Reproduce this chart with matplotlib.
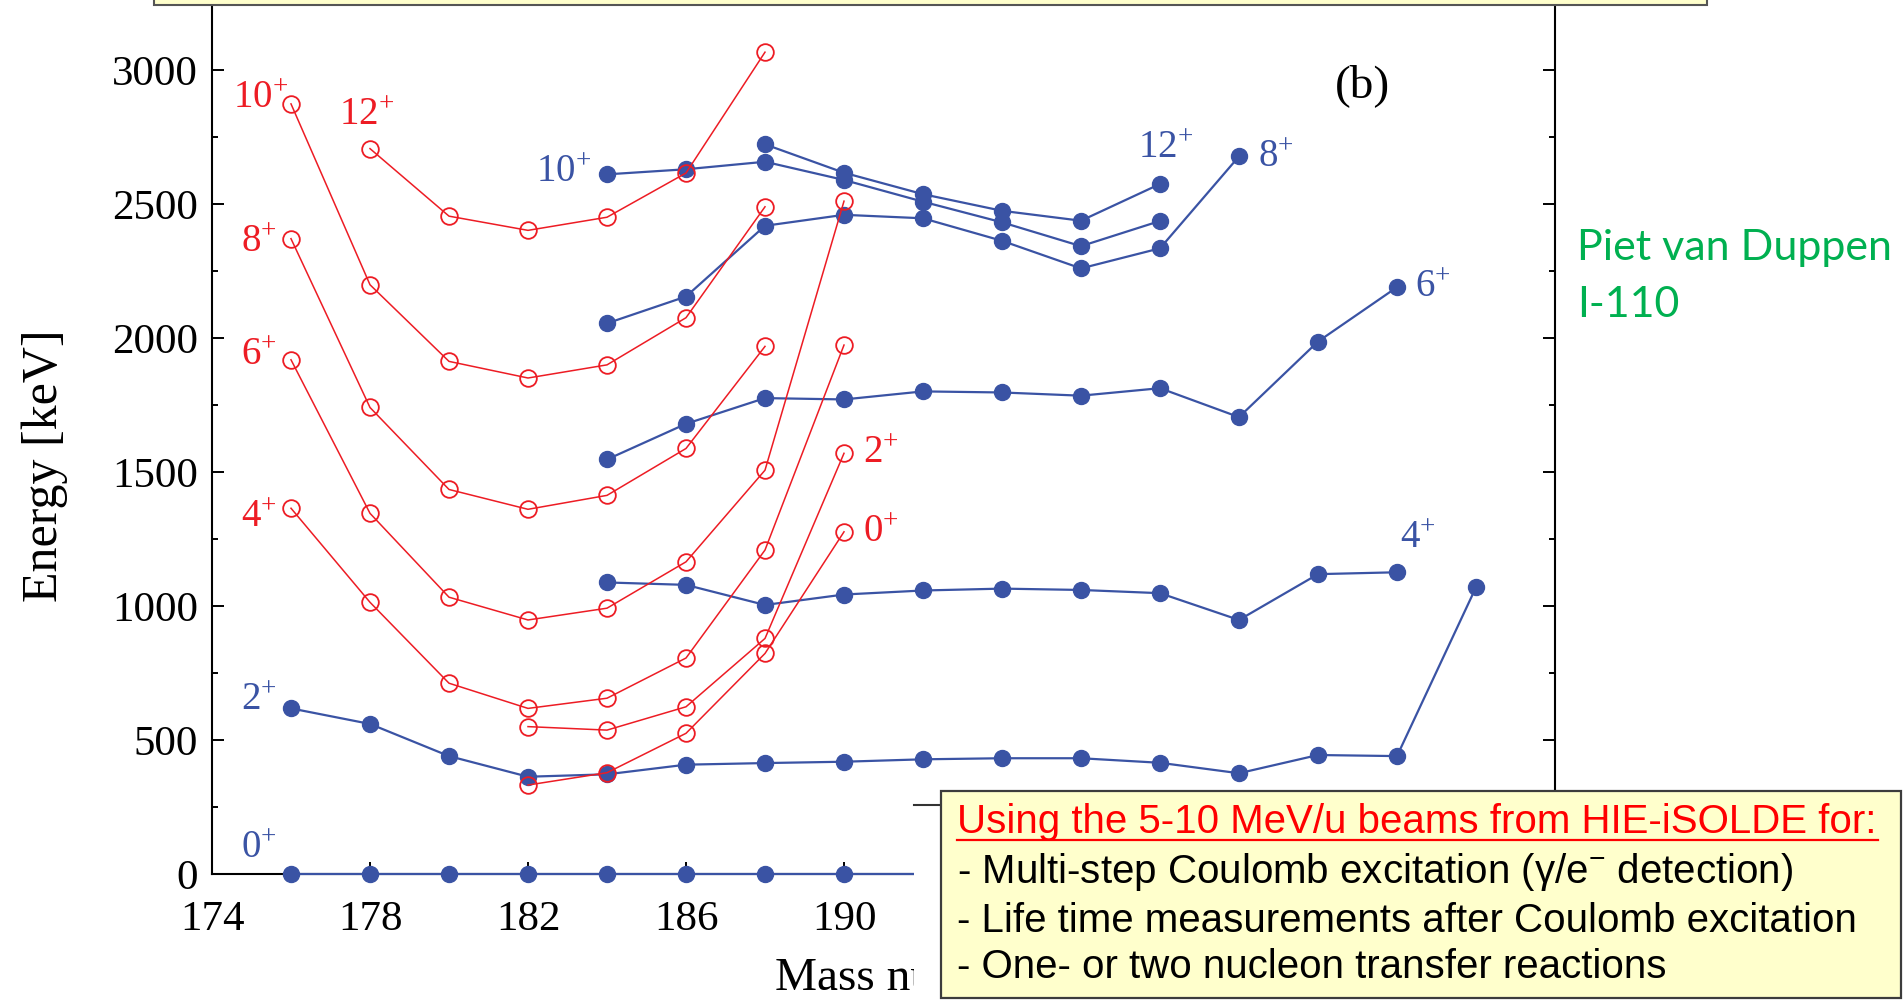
import matplotlib
matplotlib.use('Agg')
import matplotlib.pyplot as plt
from matplotlib.patches import Rectangle
from matplotlib.lines import Line2D

# excitation energies (keV) vs mass number
# red = open circles, blue = filled dots
r12_mass = [178, 180, 182, 184, 186, 188]
r12_e = [2707, 2455, 2402, 2451, 2616, 3067]
r10_mass = [176, 178, 180, 182, 184, 186, 188]
r10_e = [2874, 2199, 1913, 1851, 1900, 2076, 2490]
r8_mass = [176, 178, 180, 182, 184, 186, 188]
r8_e = [2371, 1741, 1435, 1361, 1413, 1588, 1969]
r6_mass = [176, 178, 180, 182, 184, 186, 188, 190]
r6_e = [1919, 1346, 1033, 948, 992, 1165, 1507, 2511]
r4_mass = [176, 178, 180, 182, 184, 186, 188, 190]
r4_e = [1365, 1014, 712, 618, 656, 806, 1209, 1974]
r2_mass = [182, 184, 186, 188, 190]
r2_e = [550, 537, 624, 879, 1570]
r0_mass = [182, 184, 186, 188, 190]
r0_e = [332, 378, 525, 823, 1277]

b0_mass = [176, 178, 180, 182, 184, 186, 188, 190, 192]
b0_e = [0, 0, 0, 0, 0, 0, 0, 0, 0]
b2_mass = [176, 178, 180, 182, 184, 186, 188, 190, 192, 194, 196, 198, 200, 202, 204, 206]
b2_e = [618, 560, 440, 363, 372, 408, 414, 419, 428, 432, 432, 415, 376, 444, 440, 1070]
b4_mass = [184, 186, 188, 190, 192, 194, 196, 198, 200, 202, 204]
b4_e = [1088, 1079, 1004, 1043, 1058, 1065, 1060, 1048, 948, 1119, 1126]
b6_mass = [184, 186, 188, 190, 192, 194, 196, 198, 200, 202, 204]
b6_e = [1547, 1680, 1776, 1771, 1801, 1797, 1785, 1813, 1705, 1987, 2190]
b8_mass = [184, 186, 188, 190, 192, 194, 196, 198, 200]
b8_e = [2055, 2155, 2419, 2460, 2447, 2363, 2260, 2335, 2678]
b10_mass = [184, 186, 188, 190, 192, 194, 196, 198]
b10_e = [2611, 2630, 2658, 2590, 2509, 2432, 2343, 2437]
b12_mass = [188, 190, 192, 194, 196, 198]
b12_e = [2723, 2617, 2537, 2475, 2438, 2575]

red_series = [(r12_mass, r12_e), (r10_mass, r10_e), (r8_mass, r8_e), (r6_mass, r6_e),
              (r4_mass, r4_e), (r2_mass, r2_e), (r0_mass, r0_e)]
blue_series = [(b0_mass, b0_e), (b2_mass, b2_e), (b4_mass, b4_e), (b6_mass, b6_e),
               (b8_mass, b8_e), (b10_mass, b10_e), (b12_mass, b12_e)]

red_labels = ['10', '12', '8', '6', '4', '2', '0']
red_label_pos = [(174.53, 2858), (177.22, 2795), (174.73, 2321), (174.73, 1899),
                 (174.73, 1295), (190.48, 1534), (190.48, 1239)]
blue_labels = ['10', '12', '8', '6', '4', '2', '0']
blue_label_pos = [(182.2, 2582), (197.44, 2672), (200.48, 2638), (204.46, 2153),
                  (204.08, 1216), (174.73, 612), (174.73, 60)]

x_ticks = [174, 178, 182, 186, 190, 194, 198, 202, 206]
# labels past 190 sit under the text box on the slide
x_tick_labels = ['174', '178', '182', '186', '190', '', '', '', '']

box_title = 'Using the 5-10 MeV/u beams from HIE-iSOLDE for:'
box_lines = ['- Multi-step Coulomb excitation (γ/e$\\mathregular{^{-}}$ detection)',
             '- Life time measurements after Coulomb excitation',
             '- One- or two nucleon transfer reactions']

RED = '#ED1C24'
BLUE = '#3A53A4'
W, H = 1903, 1005

plt.rcParams['font.family'] = 'Liberation Serif'
plt.rcParams['mathtext.fontset'] = 'custom'
plt.rcParams['mathtext.rm'] = 'Liberation Serif'

fig = plt.figure(figsize=(W / 100, H / 100), dpi=100)
ax = fig.add_axes([212 / W, 1 - 874 / H, (1555 - 212) / W, (874 - 5) / H])

for m, e in blue_series:
    ax.plot(m, e, '-o', color=BLUE, lw=1.6, ms=11.5, mfc=BLUE, mec=BLUE, zorder=3, clip_on=False)
for m, e in red_series:
    ax.plot(m, e, '-o', color=RED, lw=1.1, ms=12, mfc='none', mec=RED, mew=1.3, zorder=4, clip_on=False)

for t, (x, y) in zip(red_labels, red_label_pos):
    ax.text(x, y, r'$\mathregular{%s^{+}}$' % t, color=RED, fontsize=28, va='baseline', ha='left')
for t, (x, y) in zip(blue_labels, blue_label_pos):
    ax.text(x, y, r'$\mathregular{%s^{+}}$' % t, color=BLUE, fontsize=28, va='baseline', ha='left')
ax.text(202.43, 2899, '(b)', fontsize=34, va='baseline', ha='left')

ax.set_xlim(174, 208)
ax.set_ylim(0, 3243)
ax.set_xticks(x_ticks)
ax.set_xticklabels(x_tick_labels)
ax.set_xticks(range(174, 209, 2), minor=True)
ax.set_yticks(range(0, 3001, 500))
ax.set_yticks(range(0, 3001, 250), minor=True)
ax.tick_params(which='both', direction='in', right=True, width=1.4, labelsize=31)
ax.tick_params(which='major', length=8.5)
ax.tick_params(which='minor', length=4.5)
ax.tick_params(axis='y', pad=10)
ax.tick_params(axis='x', pad=19)
ax.spines['top'].set_visible(False)
for s in ['left', 'right', 'bottom']:
    ax.spines[s].set_linewidth(1.5)

ax.text(775 / W, 1 - 990 / H, 'Mass number', fontsize=34, va='baseline', ha='left',
        transform=fig.transFigure)
fig.text(45 / W, 1 - 466 / H, 'Energy [keV]', fontsize=36, rotation=90, ha='center', va='center')

# slide elements drawn over the chart
fig.patches.append(Rectangle((914 / W, 0), (W - 914) / W, (1005 - 805) / H, transform=fig.transFigure,
                             fc='white', ec='none', zorder=1))
fig.lines.append(Line2D([914 / W, 945 / W], [1 - 805 / H] * 2, transform=fig.transFigure,
                        color='#333333', lw=1.5, zorder=1.5))
fig.patches.append(Rectangle((154 / W, 1 - 5 / H), (1707 - 154) / W, 20 / H, transform=fig.transFigure,
                             fc='#FFFFCC', ec='#555555', lw=1.5, zorder=2))
fig.patches.append(Rectangle((941 / W, 1 - 998 / H), (1901 - 941) / W, (998 - 791) / H,
                             transform=fig.transFigure, fc='#FFFFCC', ec='#3C3C3C', lw=1.6, zorder=2))

fig.text(957 / W, 1 - 833 / H, box_title, color='#FF0000', fontsize=29, family='Liberation Sans',
         va='baseline', zorder=3)
fig.lines.append(Line2D([957 / W, 1878 / W], [1 - 840 / H] * 2, transform=fig.transFigure,
                        color='#FF0000', lw=1.6, zorder=3))
for txt, base in zip(box_lines, [883, 932, 978]):
    fig.text(957 / W, 1 - base / H, txt, color='black', fontsize=29, family='Liberation Sans',
             va='baseline', zorder=3)

fig.text(1577 / W, 1 - 260 / H, 'Piet van Duppen', color='#00B050', fontsize=31, family='Lato', va='baseline')
fig.text(1577 / W, 1 - 317 / H, 'I-110', color='#00B050', fontsize=31, family='Lato', va='baseline')

fig.savefig('out.png', dpi=100)
